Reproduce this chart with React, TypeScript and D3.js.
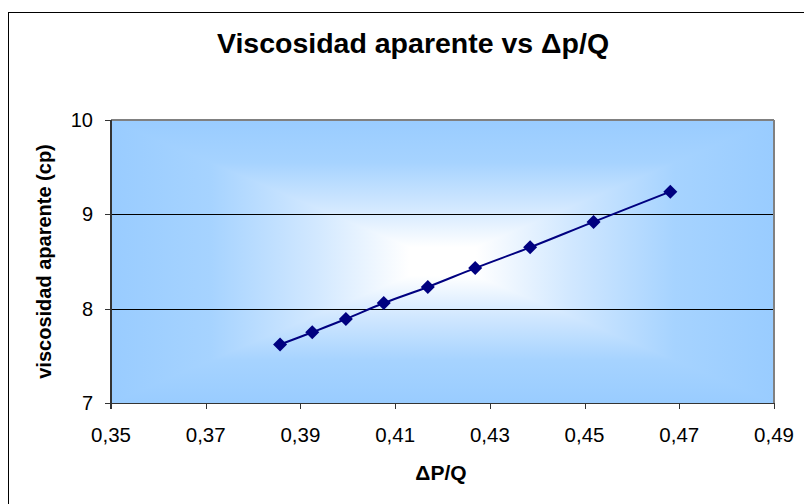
import React from "react";
import * as d3 from "d3";

const xValues = [0.3857, 0.3925, 0.3996, 0.4076, 0.4169, 0.4269, 0.4385, 0.4519, 0.4681];
const yValues = [7.62, 7.75, 7.89, 8.06, 8.23, 8.43, 8.65, 8.92, 9.24];
const xTicks = [0.35, 0.37, 0.39, 0.41, 0.43, 0.45, 0.47, 0.49];
const yTicks = [7, 8, 9, 10];
const gridValues = [8, 9];
const titleText = "Viscosidad aparente vs \u0394p/Q";
const xTitle = "\u0394P/Q";
const yTitle = "viscosidad aparente (cp)";

const FONT = "'Liberation Sans', Arial, Helvetica, sans-serif";

export default function App() {
  const W = 804, H = 504;
  const L = 111, R = 774, T = 120, B = 403;
  const x = d3.scaleLinear().domain([0.35, 0.49]).range([L, R]);
  const y = d3.scaleLinear().domain([7, 10]).range([B, T]);
  const pts: [number, number][] = xValues.map((v, i) => [v, yValues[i]]);
  const line = d3
    .line<[number, number]>()
    .x((d) => x(d[0]))
    .y((d) => y(d[1]))
    .curve(d3.curveCatmullRom.alpha(0.5));
  const cx = (L + R) / 2, cy = (T + B) / 2;
  const edge = "#99CCFF";
  const fmt = (v: number) => v.toFixed(2).replace(".", ",");
  const diamond = (px: number, py: number, r: number) =>
    `M${px},${py - r}L${px + r},${py}L${px},${py + r}L${px - r},${py}Z`;

  const stops = (
    <>
      <stop offset="0" stopColor={edge} />
      <stop offset="0.3" stopColor="#a6d3ff" />
      <stop offset="0.62" stopColor="#d2e8ff" />
      <stop offset="0.9" stopColor="#ffffff" />
      <stop offset="1" stopColor="#ffffff" />
    </>
  );

  return (
    <svg width={W} height={H} style={{ position: "absolute", left: 0, top: 0, background: "#fff" }}>
      <defs>
        <linearGradient id="gTop" gradientUnits="userSpaceOnUse" x1={0} y1={T} x2={0} y2={cy}>{stops}</linearGradient>
        <linearGradient id="gBot" gradientUnits="userSpaceOnUse" x1={0} y1={B} x2={0} y2={cy}>{stops}</linearGradient>
        <linearGradient id="gLeft" gradientUnits="userSpaceOnUse" x1={L} y1={0} x2={cx} y2={0}>{stops}</linearGradient>
        <linearGradient id="gRight" gradientUnits="userSpaceOnUse" x1={R} y1={0} x2={cx} y2={0}>{stops}</linearGradient>
      </defs>
      <rect x={8.5} y={12.5} width={820} height={520} fill="#fff" stroke="#000" strokeWidth={1} />
      {/* plot background: rectangular from-center gradient */}
      <g shapeRendering="crispEdges">
        <polygon points={`${L},${T} ${R},${T} ${cx},${cy}`} fill="url(#gTop)" />
        <polygon points={`${L},${B} ${R},${B} ${cx},${cy}`} fill="url(#gBot)" />
        <polygon points={`${L},${T} ${L},${B} ${cx},${cy}`} fill="url(#gLeft)" />
        <polygon points={`${R},${T} ${R},${B} ${cx},${cy}`} fill="url(#gRight)" />
      </g>
      {gridValues.map((g) => (
        <line key={g} x1={L} x2={R} y1={Math.round(y(g)) + 0.5} y2={Math.round(y(g)) + 0.5} stroke="#000" strokeWidth={1} />
      ))}
      {/* plot border top/right */}
      <line x1={L} x2={R} y1={T} y2={T} stroke="#808080" strokeWidth={2} />
      <line x1={R} x2={R} y1={T} y2={B} stroke="#808080" strokeWidth={2} />
      {/* axes */}
      <line x1={L} x2={L} y1={T} y2={B + 6} stroke="#333" strokeWidth={2} />
      <line x1={L - 6} x2={R} y1={B + 0.5} y2={B + 0.5} stroke="#333" strokeWidth={1} />
      {yTicks.map((t) => (
        <g key={t}>
          <line x1={L - 6} x2={L} y1={Math.round(y(t)) + 0.5} y2={Math.round(y(t)) + 0.5} stroke="#333" />
          <text x={93} y={y(t) + 7} textAnchor="end" fontFamily={FONT} fontSize={20} fill="#000">
            {t}
          </text>
        </g>
      ))}
      {xTicks.map((t) => (
        <g key={t}>
          <line x1={Math.round(x(t)) + 0.5} x2={Math.round(x(t)) + 0.5} y1={B} y2={B + 6} stroke="#333" />
          <text x={x(t)} y={442} textAnchor="middle" fontFamily={FONT} fontSize={20.5} fill="#000">
            {fmt(t)}
          </text>
        </g>
      ))}
      <path d={line(pts) || ""} fill="none" stroke="#000080" strokeWidth={2} />
      {pts.map((p, i) => (
        <path key={i} d={diamond(x(p[0]), y(p[1]), 7)} fill="#000080" />
      ))}
      <text x={413} y={53} textAnchor="middle" fontFamily={FONT} fontWeight="bold" fontSize={28.5} fill="#000">
        {titleText}
      </text>
      <text x={441} y={480} textAnchor="middle" fontFamily={FONT} fontWeight="bold" fontSize={21} fill="#000">
        {xTitle}
      </text>
      <text
        transform={`translate(51,${cy}) rotate(-90)`}
        textAnchor="middle"
        fontFamily={FONT}
        fontWeight="bold"
        fontSize={20}
        fill="#000"
      >
        {yTitle}
      </text>
    </svg>
  );
}
